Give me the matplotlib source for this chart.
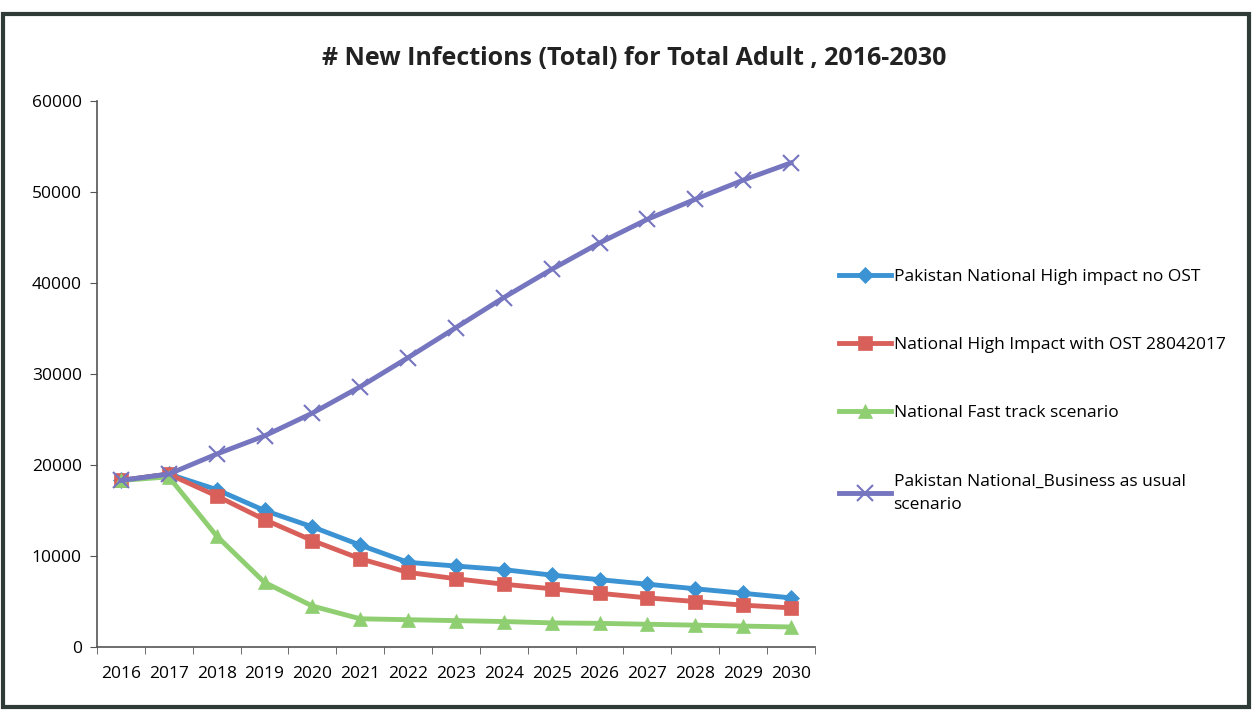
import matplotlib
matplotlib.use("Agg")
import matplotlib.pyplot as plt
from matplotlib.patches import Rectangle

years = list(range(2016, 2031))
high_no_ost = [18300, 19000, 17300, 15000, 13200, 11200, 9300, 8900, 8500, 7900, 7400, 6900, 6400, 5900, 5400]
high_with_ost = [18300, 19000, 16600, 14000, 11700, 9700, 8200, 7500, 6900, 6400, 5900, 5400, 5000, 4600, 4300]
fast_track = [18300, 18700, 12200, 7100, 4500, 3100, 3000, 2900, 2800, 2650, 2600, 2500, 2400, 2300, 2200]
business_as_usual = [18300, 19000, 21200, 23200, 25700, 28600, 31800, 35100, 38400, 41500, 44400, 47000, 49200, 51300, 53200]

labels = ["Pakistan National High impact no OST",
          "National High Impact with OST 28042017",
          "National Fast track scenario",
          "Pakistan National_Business as usual\nscenario"]
yticks = [0, 10000, 20000, 30000, 40000, 50000, 60000]

plt.rcParams['font.family'] = ['Open Sans', 'DejaVu Sans']

fig = plt.figure(figsize=(12.53, 7.11), dpi=100)
ax = fig.add_axes([0.0774, 0.090, 0.573, 0.768])

styles = [
    (high_no_ost, '#3b93d3', 'D', 8),
    (high_with_ost, '#d9605a', 's', 10),
    (fast_track, '#8fcf72', '^', 10),
    (business_as_usual, '#7575c0', 'x', 11),
]
for (vals, col, mk, ms), lab in zip(styles, labels):
    ax.plot(years, vals, color=col, lw=3.5, marker=mk, markersize=ms,
            markeredgewidth=1.5 if mk == 'x' else 0.5, markeredgecolor=col,
            markerfacecolor=col, label=lab, solid_joinstyle='round')

ax.set_xlim(2015.5, 2030.5)
ax.set_ylim(0, 60000)
ax.set_yticks(yticks)
ax.set_yticklabels([str(v) for v in yticks], fontsize=12.5)
ax.set_xticks(years)
ax.set_xticklabels([str(y) for y in years], fontsize=12.5)
ax.set_xticks([y + 0.5 for y in range(2015, 2031)], minor=True)
ax.tick_params(axis='x', which='major', length=0, pad=14)
ax.tick_params(axis='x', which='minor', length=5, color='#555555')
ax.tick_params(axis='y', length=5, color='#555555', pad=6)
for s in ['top', 'right']:
    ax.spines[s].set_visible(False)
for s in ['left', 'bottom']:
    ax.spines[s].set_color('#555555')
    ax.spines[s].set_linewidth(1.2)

fig.text(0.506, 0.918, "# New Infections (Total) for Total Adult , 2016-2030",
         ha='center', va='center', fontsize=18, fontweight='bold', color='#222222')

leg = fig.legend(loc='upper left', bbox_to_anchor=(0.657, 0.644), frameon=False,
                 fontsize=12.5, handlelength=3.0, handletextpad=0.15, labelspacing=3.0)
leg.get_texts()[3].set_linespacing(1.6)

fig.patches.append(Rectangle((0.002, 0.006), 0.995, 0.975, transform=fig.transFigure,
                             fill=False, edgecolor='#2f3b36', linewidth=3))

fig.savefig("out.png", dpi=100)
